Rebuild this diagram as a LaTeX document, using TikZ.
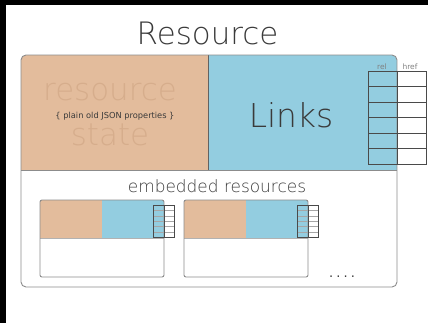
\documentclass[tikz,border=0pt]{standalone}
\usepackage{fontspec}
\setmainfont{DejaVu Sans}
\newfontfamily\thinfont{DejaVuSans-ExtraLight.ttf}
\newfontfamily\dotfont[LetterSpace=24]{DejaVu Sans}
\definecolor{tanfill}{HTML}{E3BC9C}
\definecolor{tantext}{HTML}{D6AD8C}
\definecolor{bluefill}{HTML}{93CDE0}
\definecolor{boxline}{HTML}{8C8C8C}
\definecolor{tabline}{HTML}{4A4A4A}
\definecolor{inkgray}{HTML}{3A3A3A}
\begin{document}
\begin{tikzpicture}[x=1bp,y=-1bp,
  every node/.style={inner sep=0pt,outer sep=0pt},
  boxborder/.style={draw=boxline,line width=0.9bp},
  tabouter/.style={draw=tabline,line width=0.7bp},
  tabinner/.style={draw=tabline,line width=0.5bp},
  minirule/.style={draw=gray!70,line width=0.3bp},
  thintext/.style={font=\thinfont\fontsize{#1}{#1}\selectfont},
]
\useasboundingbox (0,0) rectangle (428,323);
\fill[white] (0,0) rectangle (428,323);
\fill[black] (0,0) rectangle (428,5);
\fill[black] (0,0) rectangle (6,323);

% main resource box
\begin{scope}
  \clip[rounded corners=5bp] (21,55) rectangle (397,287);
  \fill[tanfill] (21,55) rectangle (208,170);
  \fill[bluefill] (208,55) rectangle (397,170);
\end{scope}
\draw[boxline,line width=0.6bp] (21,170) -- (397,170);
\draw[boxline!70!black,line width=0.4bp] (208,55) -- (208,170);
\draw[boxborder,rounded corners=5bp] (21,55) rectangle (397,287);

% links table
\foreach \yy in {86.5,102,117.5,133,148.5}
  \draw[tabinner] (368,\yy) -- (426,\yy);
\draw[tabinner] (397,71) -- (397,164);
\draw[tabouter] (368,71) rectangle (426,164);

% embedded resources
\foreach \ox in {40,184} {
  \begin{scope}[shift={(\ox,200)}]
    \fill[tanfill] (0,0) rectangle (62,38);
    \fill[bluefill] (62,0) rectangle (124,38);
    \draw[gray!60,line width=0.4bp] (0,38) -- (124,38);
    \draw[boxborder,rounded corners=2bp] (0,0) rectangle (124,77);
    \foreach \k in {1,...,5}
      \draw[minirule] (113,{5+\k*16/3}) -- (134,{5+\k*16/3});
    \draw[tabinner] (124,5) -- (124,37);
    \draw[tabouter,line width=0.5bp] (113,5) rectangle (134,37);
  \end{scope}
}

% texts
\node[thintext=31,text=inkgray,anchor=base] (title) at (207.5,44) {Resource};
\node[thintext=31,text=tantext,anchor=base,text depth=1bp] (stateA) at (110,100) {resource};
\node[font=\fontsize{8.3}{8.3}\selectfont,text=inkgray,anchor=base,text height=6bp,text depth=1.5bp] (props) at (115,118.5) {\{ plain old JSON properties \}};
\node[thintext=31,text=tantext,anchor=base,text height=20bp] (stateB) at (110,145) {state};
\node[thintext=33,text=inkgray,anchor=base] (links) at (291,127) {Links};
\node[font=\fontsize{7.5}{7.5}\selectfont,text=gray,anchor=base] (relhead) at (382,69.5) {rel};
\node[font=\fontsize{7.5}{7.5}\selectfont,text=gray,anchor=base] (hrefhead) at (410,69.5) {href};
\node[thintext=17,text=inkgray,anchor=base] (embedded) at (217,192) {embedded resources};
\node[font=\dotfont\fontsize{13}{13}\selectfont,text=inkgray,anchor=base] (dots) at (342,277) {....};
\end{tikzpicture}
\end{document}
